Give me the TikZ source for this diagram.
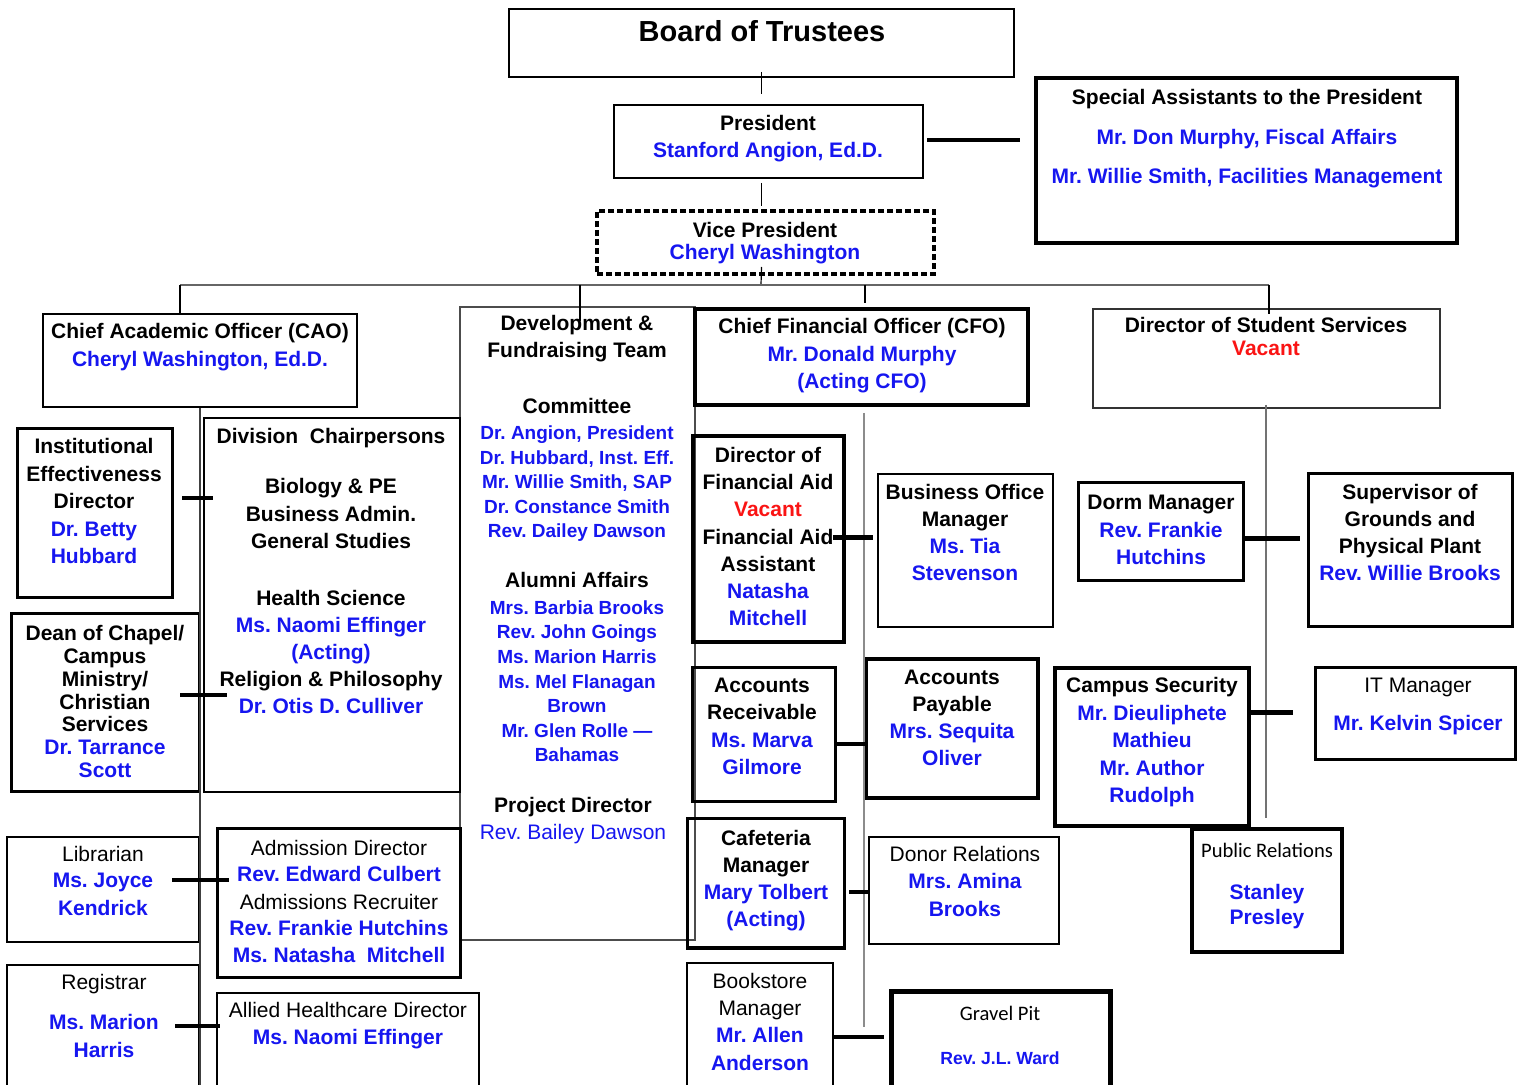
\documentclass[tikz,border=0pt]{standalone}
\usepackage{fontspec}
\setmainfont{Liberation Sans}
\newfontfamily\carl{Carlito}
\usetikzlibrary{fit,calc}
\definecolor{nb}{RGB}{22,22,240}
\definecolor{nr}{RGB}{250,20,20}
\definecolor{trk}{RGB}{120,120,120}
\newcommand{\nbl}[1]{\textcolor{nb}{#1}}
\newcommand{\nrd}[1]{\textcolor{nr}{#1}}
\newcommand{\nrg}[1]{{\mdseries #1}}
\newcommand{\bx}[6][]{\node[box,#1,fit={(#3,#4)(#5,#6)}] (#2) {};}
\tikzset{
  box/.style={draw, inner sep=0pt, line width=1.5pt},
  % anchor=base of a multi-line node is the baseline of its LAST line
  tx/.style={anchor=base, align=center, inner sep=0pt, font=\bfseries\fontsize{10.5}{#1}\selectfont},
  tx/.default=13.5,
  small/.style={anchor=base, align=center, inner sep=0pt, text=nb, font=\bfseries\fontsize{9.5}{#1}\selectfont},
  small/.default=12.3,
  conn/.style={line width=0.6pt, draw=black},
  hline/.style={line width=0.8pt, draw=black!60},
  trunkline/.style={line width=0.9pt, draw=trk},
  stub/.style={line width=2pt, draw=black},
}
\frenchspacing
\begin{document}
\frenchspacing
\begin{tikzpicture}[x=0.5pt,y=-0.5pt]
\useasboundingbox (0,0) rectangle (1523,1085);
\fill[white] (0,0) rectangle (1523,1085);
\clip (0,0) rectangle (1523,1085);

% ---------- top ----------
\bx[line width=1pt]{board}{509}{9}{1014}{77}
\node[tx, font=\bfseries\fontsize{14.5}{17}\selectfont] (boardt) at (762,42) {Board of Trustees};

\bx[line width=1pt]{pres}{614}{105}{923}{178}
\node[tx] (prest) at (768,158) {President\\\nbl{Stanford Angion, Ed.D.}};

\bx[line width=2.2pt]{sa}{1036}{78}{1457}{243}
\node[tx=19.75] (sat) at (1247,184) {Special Assistants to the President\\\nbl{Mr. Don Murphy, Fiscal Affairs}\\\nbl{Mr. Willie Smith, Facilities Management}};

\bx[line width=2pt, dash pattern=on 3.2pt off 1.3pt]{vp}{597}{211}{934}{274}
\node[tx=11] (vpt) at (765,260) {Vice President\\\nbl{Cheryl Washington}};

% ---------- second row ----------
\bx[line width=1.3pt]{cao}{43}{314}{357}{407}
\node[tx=14] (caot) at (200,367) {Chief Academic Officer (CAO)\\\nbl{Cheryl Washington, Ed.D.}};

\bx[line width=0.6pt, draw=black!70]{dev}{460}{307}{695}{940}
\node[tx] (deva) at (577,358) {Development \&\\Fundraising Team};
\node[tx] (devb) at (577,414) {Committee};
\node[small=12.25] (devc) at (577,538) {Dr. Angion, President\\Dr. Hubbard, Inst. Eff.\\Mr. Willie Smith, SAP\\Dr. Constance Smith\\Rev. Dailey Dawson};
\node[tx] (devd) at (577,588) {Alumni Affairs};
\node[small=12.33] (deve) at (577,762) {Mrs. Barbia Brooks\\Rev. John Goings\\Ms. Marion Harris\\Ms. Mel Flanagan\\Brown\\Mr. Glen Rolle —\\Bahamas};
\node[tx] (devf) at (573,840) {Project Director\\\nrg{\nbl{Rev. Bailey Dawson}}};

\bx[line width=1.7pt]{cfo}{695}{309}{1028}{405}
\node[tx=13.75] (cfot) at (862,389) {Chief Financial Officer (CFO)\\\nbl{Mr. Donald Murphy}\\\nbl{(Acting CFO)}};

\bx[line width=0.7pt, draw=black!80]{dss}{1093}{309}{1440}{408}
\node[tx=11.5] (dsst) at (1266,356) {Director of Student Services\\\nrd{Vacant}};

% ---------- left column ----------
\bx[line width=1.5pt]{ie}{17}{429}{172}{598}
\node[tx=13.75] (iet) at (94,564) {Institutional\\Effectiveness\\Director\\\nbl{Dr. Betty}\\\nbl{Hubbard}};

\bx[line width=1.4pt]{div}{204}{418}{460}{792}
\node[tx] (diva) at (331,444) {Division~~Chairpersons};
\node[tx=13.75] (divb) at (331,549) {Biology \& PE\\Business Admin.\\General Studies};
\node[tx=13.6] (divc) at (331,714) {Health Science\\\nbl{Ms. Naomi Effinger}\\\nbl{(Acting)}\\Religion \& Philosophy\\\nbl{Dr. Otis D. Culliver}};

\bx[line width=1.5pt]{dean}{11}{614}{199}{792}
\node[tx=11.5] (deant) at (105,778) {Dean of Chapel/\\Campus\\Ministry/\\Christian\\Services\\\nbl{Dr. Tarrance}\\\nbl{Scott}};

\bx[line width=1.4pt]{lib}{7}{837}{199}{942}
\node[tx] (libt) at (103,915) {\nrg{Librarian}\\\nbl{Ms. Joyce}\\\nbl{Kendrick}};

\bx[line width=1.5pt]{adm}{217}{829}{460}{977}
\node[tx] (admt) at (339,963) {\nrg{Admission Director}\\\nbl{Rev. Edward Culbert}\\\nrg{Admissions Recruiter}\\\nbl{Rev. Frankie Hutchins}\\\nbl{Ms. Natasha~~Mitchell}};

\bx[line width=1.4pt]{reg}{7}{965}{199}{1095}
\node[tx] (rega) at (104,989) {\nrg{Registrar}};
\node[tx=14] (regb) at (104,1058) {\nbl{Ms. Marion}\\\nbl{Harris}};

\bx[line width=1.4pt]{ahd}{217}{993}{479}{1095}
\node[tx] (ahdt) at (348,1044) {\nrg{Allied Healthcare Director}\\\nbl{Ms. Naomi Effinger}};

% ---------- centre column ----------
\bx[line width=2pt]{fa}{693}{436}{844}{642}
\node[tx=13.65] (fat) at (768,626) {Director of\\Financial Aid\\\nrd{Vacant}\\Financial Aid\\Assistant\\\nbl{Natasha}\\\nbl{Mitchell}};

\bx[line width=1.3pt]{bo}{878}{474}{1053}{627}
\node[tx=13.65] (bot) at (965,581) {Business Office\\Manager\\\nbl{Ms. Tia}\\\nbl{Stevenson}};

\bx[line width=1.5pt]{ar}{692}{668}{835}{802}
\node[tx=13.8] (art) at (762,775) {Accounts\\Receivable\\\nbl{Ms. Marva}\\\nbl{Gilmore}};

\bx[line width=1.8pt]{ap}{866}{659}{1038}{798}
\node[tx=13.65] (apt) at (952,766) {Accounts\\Payable\\\nbl{Mrs. Sequita}\\\nbl{Oliver}};

\bx[line width=1.5pt]{caf}{687}{819}{844}{948}
\node[tx=13.65] (caft) at (766,927) {Cafeteria\\Manager\\\nbl{Mary Tolbert}\\\nbl{(Acting)}};

\bx[line width=1.4pt]{don}{869}{837}{1059}{944}
\node[tx=13.75] (dont) at (965,916) {\nrg{Donor Relations}\\\nbl{Mrs. Amina}\\\nbl{Brooks}};

\bx[line width=1.3pt]{bk}{687}{963}{833}{1095}
\node[tx=13.65] (bkt) at (760,1070) {\nrg{Bookstore}\\\nrg{Manager}\\\nbl{Mr. Allen}\\\nbl{Anderson}};

\bx[line width=2.5pt]{gp}{891}{991}{1110}{1095}
\node[anchor=base, inner sep=0pt, font=\carl\fontsize{10.3}{12}\selectfont] (gpa) at (1000,1020) {Gravel Pit};
\node[anchor=base, inner sep=0pt, text=nb, font=\bfseries\fontsize{8.8}{10}\selectfont] (gpb) at (1000,1064) {Rev. J.L. Ward};

% ---------- right column ----------
\bx[line width=1.5pt]{dorm}{1078}{483}{1243}{581}
\node[tx=13.75] (dormt) at (1161,565) {Dorm Manager\\\nbl{Rev. Frankie}\\\nbl{Hutchins}};

\bx[line width=1.5pt]{sup}{1308}{474}{1512}{627}
\node[tx=13.6] (supt) at (1410,581) {Supervisor of\\Grounds and\\Physical Plant\\\nbl{Rev. Willie Brooks}};

\bx[line width=1.7pt]{cs}{1055}{668}{1249}{826}
\node[tx=13.75] (cst) at (1152,803) {Campus Security\\\nbl{Mr. Dieuliphete}\\\nbl{Mathieu}\\\nbl{Mr. Author}\\\nbl{Rudolph}};

\bx[line width=1.5pt]{it}{1315}{668}{1515}{760}
\node[tx=19] (itt) at (1418,731) {\nrg{IT Manager}\\\nbl{Mr. Kelvin Spicer}};

\bx[line width=1.8pt]{pr}{1192}{829}{1342}{952}
\node[anchor=base, inner sep=0pt, font=\carl\fontsize{10.3}{12}\selectfont] (pra) at (1267,857) {Public Relations};
\node[tx=13] (prb) at (1267,925) {\nbl{Stanley}\\\nbl{Presley}};

% ---------- connectors ----------
\coordinate (hub) at (761,285);
\coordinate (hubL) at (180,285);
\coordinate (hubR) at (1269,285);
\coordinate (hubD) at (580,285);
\coordinate (hubF) at (865,285);
\draw[conn] ($(board.south)+(0,-6)$) -- ($(board.south |- pres.north)+(0,-10)$);
\draw[conn] ($(board.south |- pres.south)+(0,4)$) -- ($(board.south |- vp.north)+(0,-3)$);
\draw[conn] ($(board.south |- vp.south)+(0,-9)$) -- (hub);
\draw[hline] (hubL) -- (hubR);
\draw[conn] (hubL) -- (hubL |- cao.north);
\draw[conn] (hubD) -- ($(hubD |- dev.north)+(0,15)$);
\draw[conn] (hubF) -- ($(hubF |- cfo.north)+(0,-4)$);
\draw[conn] (hubR) -- ($(hubR |- dss.north)+(0,6)$);
\draw[line width=2pt] ($(pres.east)+(3,-1)$) -- ($(sa.west |- pres.east)+(-14,-1)$);

% trunks
\coordinate (ltb) at (200,1090);
\draw[trunkline, draw=black!75] (cao.south -| ltb) -- (ltb);
\coordinate (ctt) at (864,413);
\coordinate (ctb) at (864,1027);
\draw[trunkline, line width=1pt, draw=black!45] (ctt) -- (ctb);
\coordinate (rtt) at (1266,405);
\coordinate (rtb) at (1266,818);
\draw[trunkline, draw=black!55] (rtt) -- (rtb);

% stubs
\coordinate (s1a) at (182,498);  \coordinate (s1b) at (213,498);
\coordinate (s2a) at (180,695);  \coordinate (s2b) at (227,695);
\coordinate (s3a) at (172,880);  \coordinate (s3b) at (229,880);
\coordinate (s4a) at (175,1026); \coordinate (s4b) at (220,1026);
\coordinate (s5a) at (833,538);  \coordinate (s5b) at (873,538);
\coordinate (s6a) at (835,744);  \coordinate (s6b) at (866,744);
\coordinate (s7a) at (849,892);  \coordinate (s7b) at (869,892);
\coordinate (s8a) at (833,1037); \coordinate (s8b) at (884,1037);
\coordinate (s9a) at (1243,539); \coordinate (s9b) at (1300,539);
\coordinate (s10a) at (1249,713); \coordinate (s10b) at (1293,713);
\draw[stub] (s1a) -- (s1b);
\draw[stub, line width=2.2pt] (s2a) -- (s2b);
\draw[stub, line width=1.6pt] (s3a) -- (s3b);
\draw[stub] (s4a) -- (s4b);
\draw[stub, line width=2.5pt] (s5a) -- (s5b);
\draw[stub] (s6a) -- (s6b);
\draw[stub] (s7a) -- (s7b);
\draw[stub] (s8a) -- (s8b);
\draw[stub, line width=2.5pt] (s9a) -- (s9b);
\draw[stub, line width=2.5pt] (s10a) -- (s10b);
\end{tikzpicture}
\end{document}
